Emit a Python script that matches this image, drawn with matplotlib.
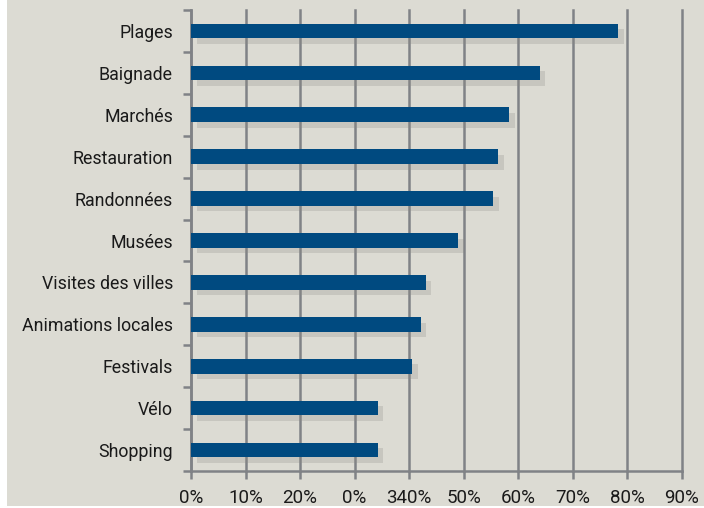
import matplotlib
matplotlib.use("Agg")
from matplotlib import pyplot as plt
from matplotlib import patheffects as pe
from matplotlib.patches import Rectangle
import numpy as np

# Data (top to bottom as shown)
categories = ["Plages", "Baignade", "Marchés", "Restauration", "Randonnées", "Musées",
              "Visites des villes", "Animations locales", "Festivals", "Vélo", "Shopping"]
values = [78.3, 63.9, 58.3, 56.3, 55.4, 49.0, 43.0, 42.1, 40.6, 34.2, 34.2]
x_ticks = [0, 10, 20, 30, 40, 50, 60, 70, 80, 90]
x_tick_labels = ["0%", "10%", "20%", "0%", "340%", "50%", "60%", "70%", "80%", "90%"]

bg = "#dcdbd3"
bar_color = "#004a80"
grid_color = "#808286"

plt.rcParams['font.family'] = ['Roboto', 'DejaVu Sans']

fig = plt.figure(figsize=(7.04, 5.08), dpi=100, facecolor="white")
fig.patches.append(Rectangle((7 / 704, 2 / 508), 1, 1, transform=fig.transFigure,
                             facecolor=bg, edgecolor="none", zorder=-10))
ax = fig.add_axes([191 / 704, 1 - 471 / 508, (682 - 191) / 704, (471 - 10) / 508])
ax.set_facecolor(bg)

n = len(categories)
y = np.arange(n)[::-1]
bars = ax.barh(y, values, height=0.35, color=bar_color, zorder=3)
for b in bars:
    b.set_path_effects([pe.SimplePatchShadow(offset=(4, -4), shadow_rgbFace="#8c8b85", alpha=0.25),
                        pe.Normal()])

ax.set_xlim(0, 90)
ax.set_ylim(-0.5, n - 0.5)

ax.set_xticks(x_ticks)
ax.set_xticklabels(x_tick_labels, fontsize=13.5, color="#1a1a1a")
ax.set_yticks(y)
ax.set_yticklabels(categories, fontsize=12.8, color="#1a1a1a")
ax.set_yticks(np.arange(-0.5, n, 1), minor=True)

ax.tick_params(axis="y", which="major", length=0, pad=13)
ax.tick_params(axis="y", which="minor", length=6, width=1.8, color=grid_color)
ax.tick_params(axis="x", length=6, width=1.8, color=grid_color, pad=7)

ax.xaxis.grid(True, color=grid_color, linewidth=1.8, zorder=0)
for line in ax.get_xgridlines():
    line.set_clip_on(False)
ax.set_axisbelow(True)

for s in ["top", "right"]:
    ax.spines[s].set_visible(False)
for s in ["left", "bottom"]:
    ax.spines[s].set_color(grid_color)
    ax.spines[s].set_linewidth(1.8)

fig.savefig("out.png", dpi=100, facecolor=fig.get_facecolor())
